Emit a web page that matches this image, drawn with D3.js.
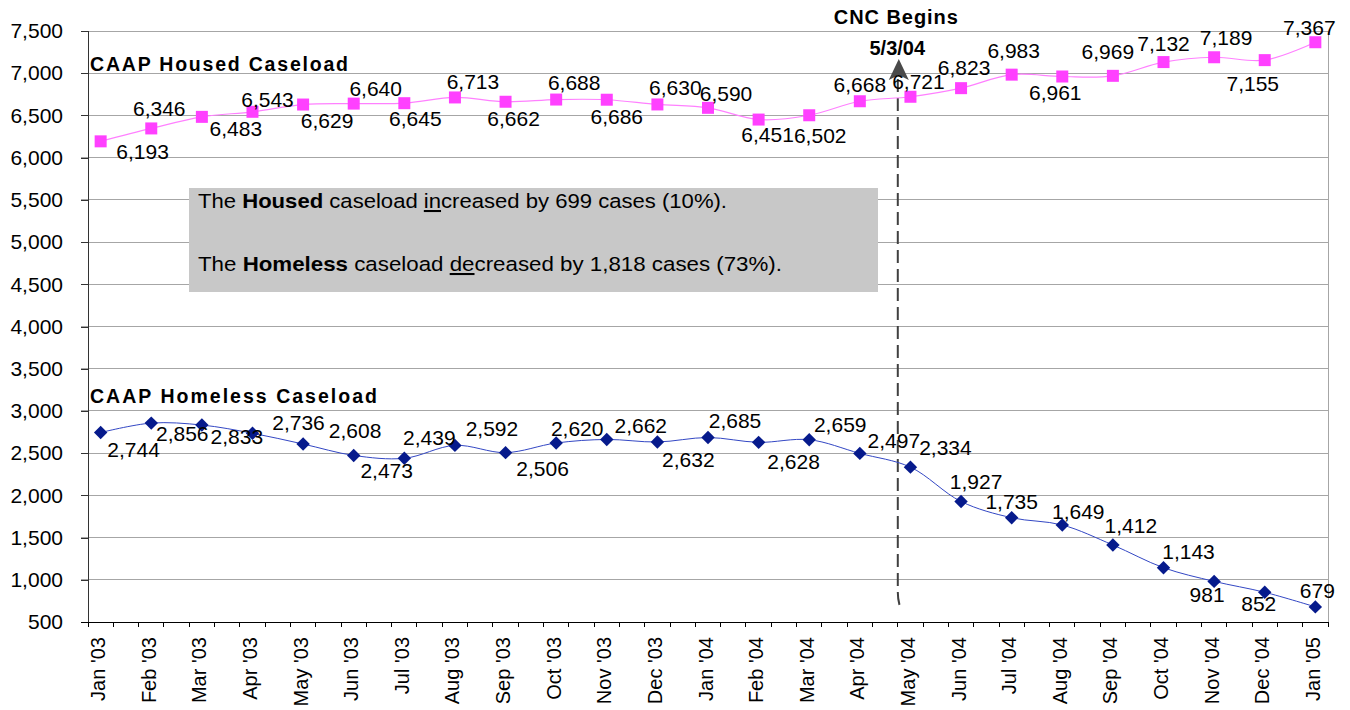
<!DOCTYPE html>
<html>
<head>
<meta charset="utf-8">
<script src="https://cdn.jsdelivr.net/npm/d3@7"></script>
<style>
  html, body { margin: 0; padding: 0; background: #ffffff; }
  svg { display: block; font-family: "Liberation Sans", Arial, sans-serif; }
</style>
</head>
<body>
<svg id="chart" width="1350" height="710"></svg>
<script>
// ---- data ----
const months = ["Jan '03","Feb '03","Mar '03","Apr '03","May '03","Jun '03","Jul '03","Aug '03","Sep '03","Oct '03","Nov '03","Dec '03",
                "Jan '04","Feb '04","Mar '04","Apr '04","May '04","Jun '04","Jul '04","Aug '04","Sep '04","Oct '04","Nov '04","Dec '04","Jan '05"];
const housed = [6193,6346,6483,6543,6629,6640,6645,6713,6662,6688,6686,6630,6590,6451,6502,6668,6721,6823,6983,6961,6969,7132,7189,7155,7367];
const homeless = [2744,2856,2833,2736,2608,2473,2439,2592,2506,2620,2662,2632,2685,2628,2659,2497,2334,1927,1735,1649,1412,1143,981,852,679];
const yTicks = [500,1000,1500,2000,2500,3000,3500,4000,4500,5000,5500,6000,6500,7000,7500];
const housedTitle = "CAAP Housed Caseload";
const homelessTitle = "CAAP Homeless Caseload";
const cncTitle = "CNC Begins";
const cncDate = "5/3/04";
const cncMonth = "May '04";

// ---- label placement (style: pixel offsets of each value label from its marker) ----
const housedLabelOffset = [[42,10],[8,-20],[34,12],[15,-12],[24,16],[22,-15],[11,15],[18,-16],[8,17],[18,-17],[10,17],[18,-17],
                           [18,-14],[9,15],[11,20],[0,-17],[8,-15],[3,-21],[2,-24],[-7,16],[-5,-24],[0,-19],[12,-20],[-12,23],[-6,-15]];
const homelessLabelOffset = [[33,17],[31,10],[35,11],[46,-11],[52,-14],[33,15],[25,-21],[37,-17],[37,16],[21,-15],[34,-14],[31,18],
                             [27,-17],[35,19],[31,-15],[34,-13],[35,-20],[15,-20],[0,-16],[16,-13],[18,-20],[25,-16],[-7,13],[-6,11],[2,-16]];

// ---- layout ----
const L = 88, R = 1328, T = 31, B = 622;
const svg = d3.select("#chart");
const fmt = d3.format(",");

const x = d3.scalePoint().domain(months).range([L, R]).padding(0.25);
const y = d3.scaleLinear().domain([500, 7500]).range([B, T]);
const step = x.step();

// gridlines (extend left as outward ticks)
svg.append("g").selectAll("line").data(yTicks.filter(v => v > 500)).join("line")
  .attr("x1", L - 7).attr("x2", R)
  .attr("y1", d => y(d)).attr("y2", d => y(d))
  .attr("stroke", "#a6a6a6").attr("stroke-width", 1).attr("shape-rendering", "crispEdges");

// right border of plot area
svg.append("line").attr("x1", R).attr("x2", R).attr("y1", T).attr("y2", B)
  .attr("stroke", "#a6a6a6").attr("shape-rendering", "crispEdges");

// y axis
const yAxis = d3.axisLeft(y).tickValues(yTicks).tickFormat(fmt).tickSize(7).tickPadding(18);
const gy = svg.append("g").attr("transform", `translate(${L},0)`).call(yAxis);
gy.select(".domain").attr("stroke", "#333").attr("shape-rendering", "crispEdges");
gy.selectAll(".tick line").attr("stroke", "#333").attr("shape-rendering", "crispEdges");
gy.selectAll(".tick text").attr("font-size", 21).attr("fill", "#000")
  .attr("font-family", "'Liberation Sans', Arial, sans-serif");

// x axis: baseline, ticks at quarter-steps around each month, rotated labels
svg.append("line").attr("x1", L - 7).attr("x2", R).attr("y1", B).attr("y2", B)
  .attr("stroke", "#000").attr("shape-rendering", "crispEdges");
const tickXs = [];
months.forEach(m => { tickXs.push(x(m) - step / 4); tickXs.push(x(m) + step / 4); });
svg.append("g").selectAll("line").data(tickXs).join("line")
  .attr("x1", d => d).attr("x2", d => d).attr("y1", B).attr("y2", B + 5)
  .attr("stroke", "#000").attr("shape-rendering", "crispEdges");
svg.append("g").selectAll("text").data(months).join("text")
  .attr("transform", d => `translate(${x(d) - 2.5},${B + 15}) rotate(-90)`)
  .attr("text-anchor", "end").attr("dy", "0.35em")
  .attr("font-size", 20).attr("fill", "#000").text(d => d);

// summary box
const box = svg.append("g");
box.append("rect").attr("x", 189).attr("y", 188).attr("width", 689).attr("height", 104).attr("fill", "#c8c8c8");
const t1 = box.append("text").attr("x", 198).attr("y", 208).attr("font-size", 20.5).attr("fill", "#000")
  .attr("textLength", 529).attr("lengthAdjust", "spacingAndGlyphs");
t1.append("tspan").text("The ");
t1.append("tspan").attr("font-weight", "bold").text("Housed");
t1.append("tspan").text(" caseload ");
t1.append("tspan").attr("text-decoration", "underline").text("in");
t1.append("tspan").text("creased by 699 cases (10%).");
const t2 = box.append("text").attr("x", 198).attr("y", 271).attr("font-size", 20.5).attr("fill", "#000")
  .attr("textLength", 584).attr("lengthAdjust", "spacingAndGlyphs");
t2.append("tspan").text("The ");
t2.append("tspan").attr("font-weight", "bold").text("Homeless");
t2.append("tspan").text(" caseload ");
t2.append("tspan").attr("text-decoration", "underline").text("de");
t2.append("tspan").text("creased by 1,818 cases (73%).");

// CNC annotation
const cx = x(cncMonth) - step / 4;
svg.append("path")
  .attr("d", `M${cx},79 L${cx},592 Q${cx},601 ${cx + 3},609`)
  .attr("fill", "none").attr("stroke", "#404040").attr("stroke-width", 2).attr("stroke-dasharray", "13,6");
svg.append("path")
  .attr("d", `M${cx + 1},59 L${cx + 11},80 L${cx + 1},75 L${cx - 9},80 Z`)
  .attr("fill", "#4a4a4a");
svg.append("text").attr("x", cx - 2).attr("y", 24).attr("text-anchor", "middle")
  .attr("font-size", 20).attr("font-weight", "bold").attr("textLength", 124).attr("lengthAdjust", "spacing").text(cncTitle);
svg.append("text").attr("x", cx - 0.5).attr("y", 55).attr("text-anchor", "middle")
  .attr("font-size", 20).attr("font-weight", "bold").text(cncDate);

// series titles
svg.append("text").attr("x", 90).attr("y", 71).attr("font-size", 19.5).attr("font-weight", "bold")
  .attr("textLength", 258).attr("lengthAdjust", "spacing").text(housedTitle);
svg.append("text").attr("x", 90).attr("y", 403).attr("font-size", 19.5).attr("font-weight", "bold")
  .attr("textLength", 287).attr("lengthAdjust", "spacing").text(homelessTitle);

// lines
const line = d3.line().x((d, i) => x(months[i])).y(d => y(d)).curve(d3.curveCatmullRom.alpha(0.5));
svg.append("path").datum(housed).attr("d", line).attr("fill", "none").attr("stroke", "#ff80ff").attr("stroke-width", 1.2);
svg.append("path").datum(homeless).attr("d", line).attr("fill", "none").attr("stroke", "#3347c4").attr("stroke-width", 1);

// markers
svg.append("g").selectAll("path").data(housed).join("path")
  .attr("transform", (d, i) => `translate(${x(months[i])},${y(d)})`)
  .attr("d", d3.symbol().type(d3.symbolSquare).size(144))
  .attr("fill", "#ff40ff");
svg.append("g").selectAll("path").data(homeless).join("path")
  .attr("transform", (d, i) => `translate(${x(months[i])},${y(d)}) rotate(45)`)
  .attr("d", d3.symbol().type(d3.symbolSquare).size(90))
  .attr("fill", "#061a8c");

// value labels
svg.append("g").selectAll("text").data(housed).join("text")
  .attr("x", (d, i) => x(months[i]) + housedLabelOffset[i][0])
  .attr("y", (d, i) => y(d) + housedLabelOffset[i][1] + 7.5)
  .attr("text-anchor", "middle").attr("font-size", 21).attr("fill", "#000").text(d => fmt(d));
svg.append("g").selectAll("text").data(homeless).join("text")
  .attr("x", (d, i) => x(months[i]) + homelessLabelOffset[i][0])
  .attr("y", (d, i) => y(d) + homelessLabelOffset[i][1] + 7.5)
  .attr("text-anchor", "middle").attr("font-size", 21).attr("fill", "#000").text(d => fmt(d));
</script>
</body>
</html>
